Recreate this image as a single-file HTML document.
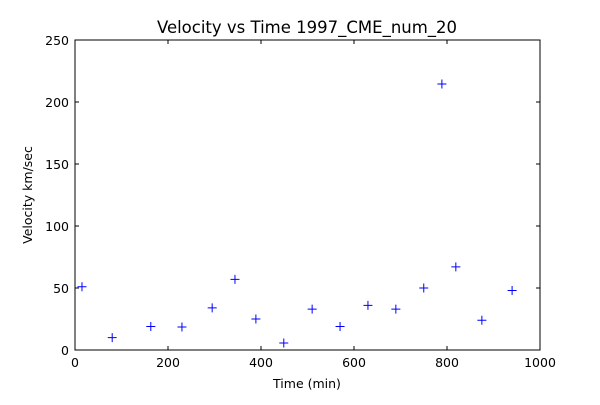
<!DOCTYPE html>
<html><head><meta charset="utf-8"><style>
body{margin:0;background:#fff;}
svg text{font-family:"DejaVu Sans","Liberation Sans",sans-serif;}
</style></head><body>
<svg id="chart" width="600" height="400" xmlns="http://www.w3.org/2000/svg">
<rect width="600" height="400" fill="#fff"/>
<text x="307" y="33" text-anchor="middle" font-size="16.5">Velocity vs Time 1997_CME_num_20</text>
<text x="307" y="388" text-anchor="middle" font-size="12.5">Time (min)</text>
<text x="32" y="195" text-anchor="middle" font-size="12.5" transform="rotate(-90 32 195)">Velocity km/sec</text>
<g id="ticks"></g>
<g id="points"></g>
<rect x="75" y="40" width="465" height="310" fill="none" stroke="#000" stroke-width="1"/>
</svg>
<script>
const xTicks=[0,200,400,600,800,1000];
const yTicks=[0,50,100,150,200,250];
const times=[15,80,163,230,295,344,389,449,510,570,630,690,750,789,819,875,940];
const velocities=[51,10,19,18.5,34,57,25,5.6,33,19,36,33,50,214.5,67,24,48];
const L=75,R=540,T=40,B=350,NS="http://www.w3.org/2000/svg";
const sx=v=>L+(v-0)/(1000-0)*(R-L);
const sy=v=>B-(v-0)/(250-0)*(B-T);
function mk(t,a){const e=document.createElementNS(NS,t);for(const k in a)e.setAttribute(k,a[k]);return e;}
const tg=document.getElementById('ticks');
xTicks.forEach(v=>{const x=sx(v);
 let l=mk('line',{x1:x,x2:x,y1:B,y2:B-4,stroke:'#000'});tg.appendChild(l);
 l=mk('line',{x1:x,x2:x,y1:T,y2:T+4,stroke:'#000'});tg.appendChild(l);
 const t=mk('text',{x:x,y:B+17,'text-anchor':'middle','font-size':'12.5'});t.textContent=v;tg.appendChild(t);});
yTicks.forEach(v=>{const y=sy(v);
 let l=mk('line',{x1:L,x2:L+4,y1:y,y2:y,stroke:'#000'});tg.appendChild(l);
 l=mk('line',{x1:R,x2:R-4,y1:y,y2:y,stroke:'#000'});tg.appendChild(l);
 const t=mk('text',{x:L-6,y:y+5,'text-anchor':'end','font-size':'12.5'});t.textContent=v;tg.appendChild(t);});
const pg=document.getElementById('points');
times.forEach((tv,i)=>{const x=sx(tv),y=sy(velocities[i]);
 const p=mk('path',{d:`M${x-4.5},${y}H${x+4.5}M${x},${y-4.5}V${y+4.5}`,stroke:'#0000ff','stroke-width':'1',fill:'none'});
 
 
 pg.appendChild(p);});
</script>
</body></html>
